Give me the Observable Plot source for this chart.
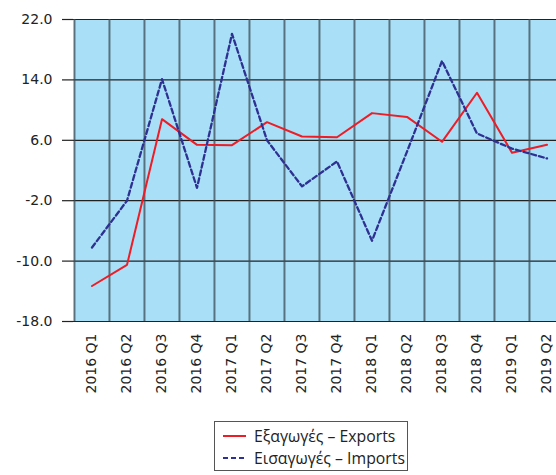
<!DOCTYPE html>
<html><head><meta charset="utf-8">
<script src="https://cdn.jsdelivr.net/npm/d3@7"></script>
<script src="https://cdn.jsdelivr.net/npm/@observablehq/plot@0.6"></script>
<style>
body{margin:0;background:#fff;overflow:hidden;}
#chart{position:absolute;left:0;top:0;}
#legend{position:absolute;left:214px;top:421px;width:194px;height:50px;border:1px solid #555;box-sizing:border-box;font-family:"Open Sans",sans-serif;font-size:15.8px;color:#222;background:#fff;}
.row{position:absolute;left:0;height:22px;display:flex;align-items:center;white-space:nowrap;}
.row svg{margin-left:8px;margin-right:8px;}
</style></head><body>
<div id="chart"></div>
<div id="legend"></div>
<script>
const quarters = ["2016 Q1","2016 Q2","2016 Q3","2016 Q4","2017 Q1","2017 Q2","2017 Q3","2017 Q4","2018 Q1","2018 Q2","2018 Q3","2018 Q4","2019 Q1","2019 Q2"];
const exportsVals = [-13.3,-10.5,8.8,5.4,5.35,8.4,6.5,6.4,9.6,9.1,5.8,12.3,4.35,5.4];
const importsVals = [-8.2,-2.0,14.1,-0.3,20.1,6.0,-0.1,3.2,-7.3,4.5,16.5,6.9,4.9,3.6];
const yTicks = [-18,-10,-2,6,14,22];
const seriesNames = ["Εξαγωγές – Exports","Εισαγωγές – Imports"];
const seriesColors = ["#ee1c25","#2e3192"];

const exportsData = quarters.map((q,i)=>({q, v: exportsVals[i]}));
const importsData = quarters.map((q,i)=>({q, v: importsVals[i]}));

const left = 73, right = 564;
const bw = (right-left)/quarters.length;

const chart = Plot.plot({
  width: 556,
  height: 415,
  marginLeft: left,
  marginRight: 0,
  marginTop: 19,
  marginBottom: 94,
  style: {fontFamily: "DejaVu Sans", fontSize: "14px", color: "#222", overflow: "visible"},
  x: {type: "band", domain: quarters, range: [left, right], padding: 0, label: null},
  y: {domain: [-18, 22], label: null},
  marks: [
    Plot.barY(quarters, {x: d=>d, y1: ()=>-18, y2: ()=>22, fill: "#aadff8", inset: 0}),
    Plot.ruleY(yTicks, {stroke: "#222", strokeWidth: 1.2}),
    Plot.ruleX(quarters, {x: d=>d, dx: -bw/2, stroke: "#3c4c55", strokeOpacity: 0.75, strokeWidth: 2}),
    Plot.line(exportsData, {x: "q", y: "v", stroke: seriesColors[0], strokeWidth: 2}),
    Plot.line(importsData, {x: "q", y: "v", stroke: seriesColors[1], strokeWidth: 2.3, strokeDasharray: "5,3"}),
    Plot.axisY(yTicks, {tickSize: 11, tickPadding: 10, tickFormat: d=>d.toFixed(1), stroke: "#222", strokeWidth: 1.2, fontSize: 14}),
    Plot.axisX({tickSize: 0, tickPadding: 12, tickRotate: -90, fontSize: 14}),
    Plot.ruleY([-18], {x1: quarters[0], stroke: "#111", strokeWidth: 1.5}),
  ]
});
document.getElementById("chart").appendChild(chart);

const legend = document.getElementById("legend");
seriesNames.forEach((name,i)=>{
  const row = document.createElement("div");
  row.className = "row";
  row.style.top = (i===0 ? 3 : 25) + "px";
  const dash = i===1 ? 'stroke-dasharray="5,3"' : '';
  row.innerHTML = `<svg width="23" height="4"><line x1="0" y1="2" x2="23" y2="2" stroke="${seriesColors[i]}" stroke-width="2" ${dash}/></svg><span>${name}</span>`;
  legend.appendChild(row);
});
</script>
</body></html>
